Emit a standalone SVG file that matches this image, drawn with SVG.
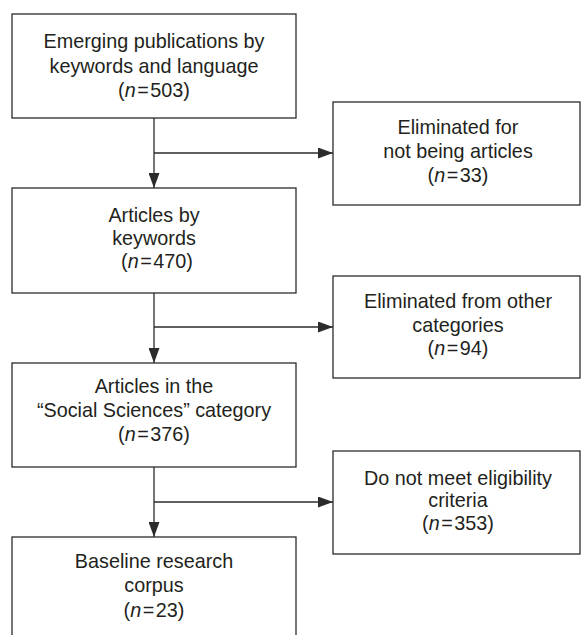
<svg xmlns="http://www.w3.org/2000/svg" width="581" height="635" viewBox="0 0 581 635">
<style>
.box{fill:#fff;stroke:#2b2b2b;stroke-width:1.3}
.t{font-family:"Liberation Sans",Arial,sans-serif;font-size:19.8px;fill:#231f20;text-anchor:middle}
.i{font-style:italic}
.c{stroke:#2b2b2b;stroke-width:1.3;fill:none}
</style>
<defs>
<marker id="ah" markerWidth="15" markerHeight="11" refX="15" refY="5.5" orient="auto" markerUnits="userSpaceOnUse">
<path d="M0,0 L15,5.5 L0,11 Z" fill="#2b2b2b"/>
</marker>
</defs>
<rect width="581" height="635" fill="#fff"/>
<g id="connectors">
<line class="c" x1="154" y1="118" x2="154" y2="188" marker-end="url(#ah)"/>
<line class="c" x1="154" y1="153" x2="333" y2="153" marker-end="url(#ah)"/>
<line class="c" x1="154" y1="293" x2="154" y2="363" marker-end="url(#ah)"/>
<line class="c" x1="154" y1="327" x2="333" y2="327" marker-end="url(#ah)"/>
<line class="c" x1="154" y1="467" x2="154" y2="537" marker-end="url(#ah)"/>
<line class="c" x1="154" y1="502" x2="333" y2="502" marker-end="url(#ah)"/>
</g>
<g id="n1">
<rect class="box" x="12" y="14" width="284" height="104"/>
<text class="t" x="154" y="48">Emerging publications by</text>
<text class="t" x="154" y="72.5">keywords and language</text>
<text class="t" x="154" y="97">(<tspan class="i">n</tspan><tspan dx="1.5">=</tspan><tspan dx="1.5">503)</tspan></text>
</g>
<g id="n2">
<rect class="box" x="333" y="102" width="247" height="103"/>
<text class="t" x="458" y="134">Eliminated for</text>
<text class="t" x="458" y="158">not being articles</text>
<text class="t" x="458" y="182">(<tspan class="i">n</tspan><tspan dx="1.5">=</tspan><tspan dx="1.5">33)</tspan></text>
</g>
<g id="n3">
<rect class="box" x="12" y="188" width="284" height="105"/>
<text class="t" x="154" y="222">Articles by</text>
<text class="t" x="154" y="245">keywords</text>
<text class="t" x="157" y="268">(<tspan class="i">n</tspan><tspan dx="1.5">=</tspan><tspan dx="1.5">470)</tspan></text>
</g>
<g id="n4">
<rect class="box" x="333" y="276" width="247" height="102"/>
<text class="t" x="458" y="308">Eliminated from other</text>
<text class="t" x="458" y="332">categories</text>
<text class="t" x="458" y="355">(<tspan class="i">n</tspan><tspan dx="1.5">=</tspan><tspan dx="1.5">94)</tspan></text>
</g>
<g id="n5">
<rect class="box" x="12" y="363" width="284" height="104"/>
<text class="t" x="154" y="393">Articles in the</text>
<text class="t" x="154" y="417">“Social Sciences” category</text>
<text class="t" x="154" y="441">(<tspan class="i">n</tspan><tspan dx="1.5">=</tspan><tspan dx="1.5">376)</tspan></text>
</g>
<g id="n6">
<rect class="box" x="333" y="451" width="247" height="103"/>
<text class="t" x="458" y="485">Do not meet eligibility</text>
<text class="t" x="458" y="507">criteria</text>
<text class="t" x="458" y="530">(<tspan class="i">n</tspan><tspan dx="1.5">=</tspan><tspan dx="1.5">353)</tspan></text>
</g>
<g id="n7">
<rect class="box" x="12" y="537" width="284" height="120"/>
<text class="t" x="154" y="568">Baseline research</text>
<text class="t" x="154" y="592">corpus</text>
<text class="t" x="154" y="617">(<tspan class="i">n</tspan><tspan dx="1.5">=</tspan><tspan dx="1.5">23)</tspan></text>
</g>
</svg>
